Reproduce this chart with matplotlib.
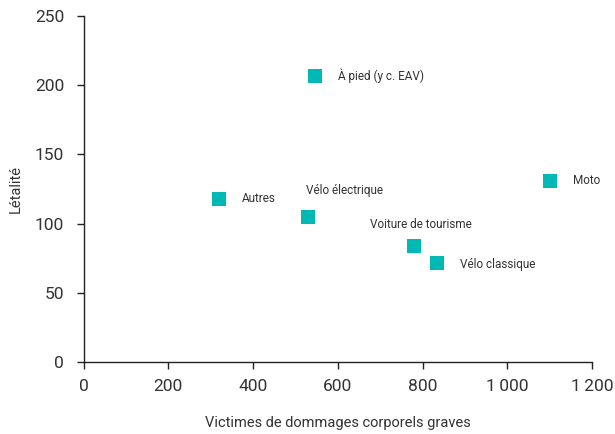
import matplotlib
matplotlib.use("Agg")
import matplotlib.pyplot as plt
from matplotlib.ticker import FuncFormatter

# Data
labels = ["À pied (y c. EAV)", "Autres", "Vélo électrique", "Voiture de tourisme", "Vélo classique", "Moto"]
victimes = [547, 320, 530, 781, 835, 1102]
letalite = [207, 118, 105, 84, 71.5, 131]

# label offsets (points) relative to each marker
offsets = [(16.5, 0), (16.5, 0), (-1.5, 18.5), (-32, 15), (16.5, -1), (16.5, 0)]

plt.rcParams["font.family"] = ["Roboto", "DejaVu Sans"]
text_col = "#333333"

fig = plt.figure(figsize=(6.15, 4.34), dpi=100)
ax = fig.add_axes([0.1358, 0.166, 0.8268, 0.797])

ax.scatter(victimes, letalite, marker="s", s=105, color="#00B8B4", zorder=3, linewidths=0)

for lab, x, y, off in zip(labels, victimes, letalite, offsets):
    ax.annotate(lab, (x, y), xytext=off, textcoords="offset points",
                ha="left", va="center", fontsize=8.5, color=text_col)

ax.set_xlim(0, 1200)
ax.set_ylim(0, 250)
ax.set_xticks(range(0, 1201, 200))
ax.set_yticks(range(0, 251, 50))
ax.xaxis.set_major_formatter(FuncFormatter(lambda v, p: f"{int(v):,}".replace(",", "\u2009")))

for s in ["top", "right"]:
    ax.spines[s].set_visible(False)
for s in ["left", "bottom"]:
    ax.spines[s].set_color("#222222")
    ax.spines[s].set_linewidth(1.0)

ax.tick_params(axis="both", direction="out", length=5, width=1, color="#222222",
               labelsize=12.5, labelcolor=text_col)
ax.tick_params(axis="y", pad=9)
ax.tick_params(axis="x", pad=7)

ax.set_xlabel("Victimes de dommages corporels graves", fontsize=10.5, color=text_col, labelpad=16)
ax.set_ylabel("Létalité", fontsize=10.5, color=text_col, labelpad=9)

fig.savefig("out.png", dpi=100, facecolor="white")
